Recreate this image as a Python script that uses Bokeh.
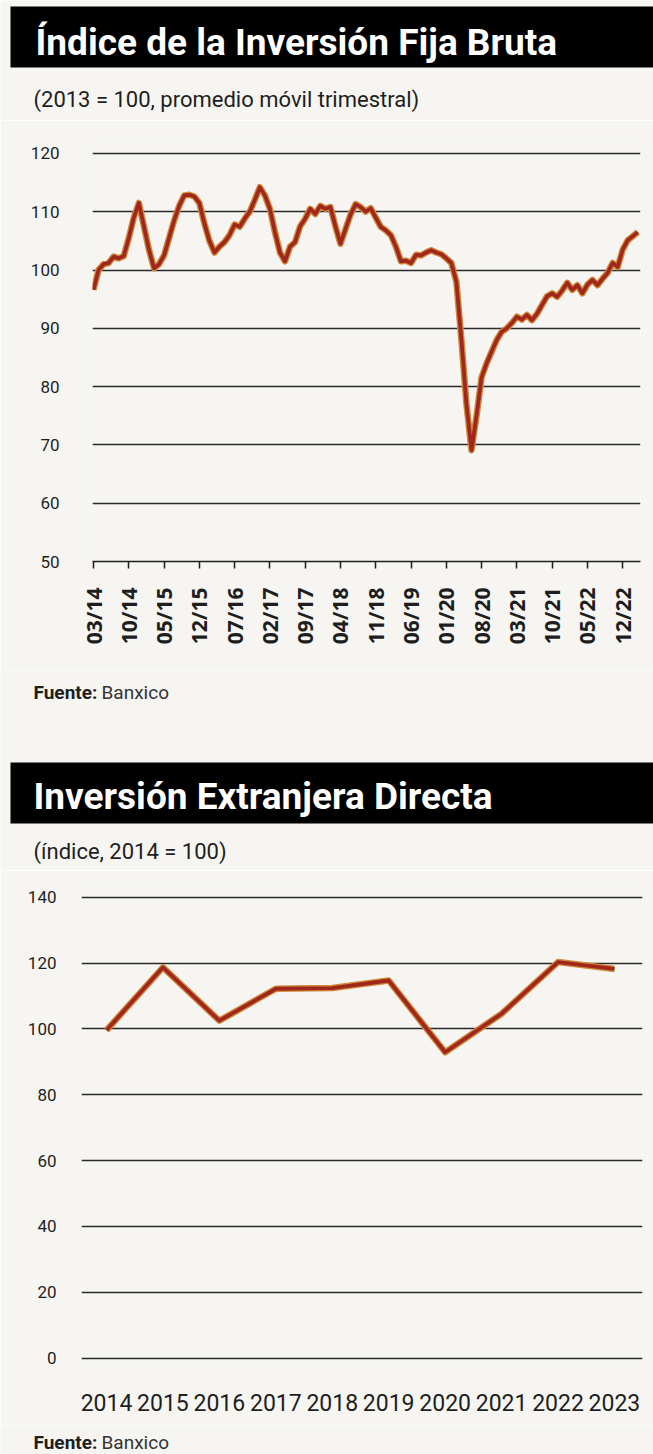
import math
from bokeh.plotting import figure
from bokeh.models import Range1d, FixedTicker
from bokeh.layouts import column
from bokeh.core.properties import value
from bokeh.embed import file_html
from bokeh.resources import INLINE

# ---------------- data ----------------
ifb_values = [
    96.6, 100.0, 101.0, 101.2, 102.3, 102.0, 102.4, 105.5, 109.0, 111.5,
    107.5, 103.5, 100.3, 101.0, 102.5, 105.5, 108.5, 111.0, 112.8, 112.9,
    112.6, 111.5, 108.0, 105.0, 103.0, 104.0, 104.8, 106.0, 107.8, 107.4,
    108.8, 110.0, 112.0, 114.2, 112.8, 110.5, 106.5, 103.0, 101.5, 104.0,
    104.8, 107.5, 108.8, 110.5, 109.6, 111.0, 110.5, 110.8, 107.5, 104.5,
    107.0, 109.5, 111.3, 110.8, 110.0, 110.6, 109.0, 107.4, 106.8, 106.0,
    104.0, 101.5, 101.6, 101.2, 102.6, 102.5, 103.0, 103.4, 103.0, 102.7,
    102.0, 101.2, 98.0, 88.0, 77.0, 69.1, 75.0, 81.6, 84.0, 86.0,
    88.0, 89.4, 90.0, 90.9, 92.0, 91.5, 92.3, 91.4, 92.5, 94.0,
    95.5, 96.0, 95.4, 96.5, 97.8, 96.6, 97.4, 96.0, 97.5, 98.3,
    97.4, 98.5, 99.5, 101.2, 100.5, 103.5, 105.1, 105.8, 106.5,
]
ifb_tick_labels = ["03/14", "10/14", "05/15", "12/15", "07/16", "02/17", "09/17", "04/18",
                   "11/18", "06/19", "01/20", "08/20", "03/21", "10/21", "05/22", "12/22"]
ifb_tick_step = 7
ifb_yticks = [50, 60, 70, 80, 90, 100, 110, 120]

ied_years = [2014, 2015, 2016, 2017, 2018, 2019, 2020, 2021, 2022, 2023]
ied_values = [99.6, 118.7, 102.5, 112.2, 112.4, 114.7, 92.9, 104.6, 120.3, 118.2]
ied_yticks = [0, 20, 40, 60, 80, 100, 120, 140]

title1 = "Índice de la Inversión Fija Bruta"
subtitle1 = "(2013 = 100, promedio móvil trimestral)"
title2 = "Inversión Extranjera Directa"
subtitle2 = "(índice, 2014 = 100)"
source_bold = "Fuente:"
source_name = "Banxico"

# ---------------- style ----------------
BG = "#f6f5f2"
GRID = "#2a2a2a"
INK = "#1e1e1e"
LINE_EDGE = "#cf8a3c"
LINE_CORE = "#a1261b"
FONT = "Roboto"
W = 653
BASE_FIX = 0.31   # svg text baseline correction (fraction of font size)


def panel(top, bottom):
    """A plain figure whose frame fills the canvas, in page pixels (y downward)."""
    h = bottom - top
    p = figure(width=W, height=h, output_backend="svg", toolbar_location=None,
               x_range=Range1d(0, W), y_range=Range1d(bottom, top),
               x_axis_type=None, y_axis_type=None, frame_align=False,
               min_border_left=0, min_border_right=0, min_border_top=0, min_border_bottom=0,
               background_fill_color=BG, border_fill_color=BG)
    p.outline_line_color = None
    p.xgrid.visible = False
    p.ygrid.visible = False
    return p


def put_text(p, x, y, txt, size, color, style="normal"):
    p.text(x=[x], y=[y - BASE_FIX * size], text=[txt], text_font=value(FONT),
           text_font_size=f"{size}px", text_font_style=style,
           text_color=color, text_baseline="alphabetic")


def header(p, y_top, y_bot, title, x_title, y_title, sub, x_sub, y_sub):
    p.quad(left=[10], right=[W], top=[y_top], bottom=[y_bot], fill_color="black", line_color=None)
    put_text(p, x_title, y_title, title, 37, "white", "bold")
    put_text(p, x_sub, y_sub, sub, 22, INK)


def source(p, x, y):
    put_text(p, x, y, source_bold, 19, INK, "bold")
    put_text(p, x + 68, y, source_name, 19, "#333333")


def style_yaxis(p, ticks, size, standoff):
    p.yaxis.ticker = FixedTicker(ticks=ticks)
    p.yaxis.axis_line_color = None
    p.yaxis.major_tick_line_color = None
    p.yaxis.minor_tick_line_color = None
    p.yaxis.major_tick_out = 0
    p.yaxis.major_tick_in = 0
    p.yaxis.major_label_standoff = standoff
    p.yaxis.major_label_text_font = FONT
    p.yaxis.major_label_text_font_size = size
    p.yaxis.major_label_text_color = INK
    p.xgrid.visible = False
    p.ygrid.ticker = FixedTicker(ticks=ticks)
    p.ygrid.grid_line_color = GRID
    p.ygrid.grid_line_width = 1.5


# ============ header 1 ============
pA = panel(0, 120)
header(pA, 6, 67, title1, 35, 53, subtitle1, 33, 106)

# ============ chart 1 : Indice de la Inversion Fija Bruta ============
C1_TOP, C1_BOT = 120, 670
F1_L, F1_R, F1_T, F1_B = 92, 640, 141, 561      # frame edges on the page
T0 = 93                                         # page x of first tick
PXM = 5.04                                      # px per month
PXU1 = 5.83                                     # px per index point
x1s = (F1_L - T0) / PXM
x1e = (F1_R - T0) / PXM
y1s = 50
y1e = 50 + (F1_B - F1_T) / PXU1

p1 = figure(width=W, height=C1_BOT - C1_TOP, output_backend="svg", toolbar_location=None,
            x_range=Range1d(x1s, x1e), y_range=Range1d(y1s, y1e), frame_align=False,
            min_border_left=F1_L, min_border_right=W - F1_R,
            min_border_top=F1_T - C1_TOP, min_border_bottom=C1_BOT - F1_B,
            background_fill_color=BG, border_fill_color=BG)
p1.outline_line_color = None

months = list(range(len(ifb_values)))
p1.line(months, ifb_values, line_color=LINE_EDGE, line_width=6.5, line_join="round")
p1.line(months, ifb_values, line_color=LINE_CORE, line_width=3.8, line_join="round")

tick_pos = [i * ifb_tick_step for i in range(len(ifb_tick_labels))]
p1.xaxis.ticker = FixedTicker(ticks=tick_pos)
p1.xaxis.major_label_overrides = {t: lab for t, lab in zip(tick_pos, ifb_tick_labels)}
p1.xaxis.major_label_orientation = math.pi / 2
p1.xaxis.axis_line_color = INK
p1.xaxis.axis_line_width = 1.5
p1.xaxis.major_tick_line_color = INK
p1.xaxis.major_tick_line_width = 1.5
p1.xaxis.major_tick_in = 0
p1.xaxis.major_tick_out = 7
p1.xaxis.minor_tick_line_color = None
p1.xaxis.major_label_standoff = 19
p1.xaxis.major_label_text_font = "Open Sans"
p1.xaxis.major_label_text_font_size = "21px"
p1.xaxis.major_label_text_font_style = "bold"
p1.xaxis.major_label_text_color = INK
style_yaxis(p1, ifb_yticks, "17px", 33)

# ============ footer 1 + header 2 ============
pB = panel(670, 870)
source(pB, 33, 698)
header(pB, 762, 823, title2, 33, 807, subtitle2, 33, 858)

# ============ chart 2 : Inversion Extranjera Directa ============
C2_TOP, C2_BOT = 870, 1425
F2_L, F2_R, F2_T, F2_B = 81, 642, 886, 1362
YR0 = 106          # page x of first year
PXY = 56.44        # px per year
Z0 = 1357.7        # page y of zero line
PXU2 = 3.293       # px per index point
x2s = ied_years[0] - (YR0 - F2_L) / PXY
x2e = ied_years[0] + (F2_R - YR0) / PXY
y2s = -(F2_B - Z0) / PXU2
y2e = (Z0 - F2_T) / PXU2

p2 = figure(width=W, height=C2_BOT - C2_TOP, output_backend="svg", toolbar_location=None,
            x_range=Range1d(x2s, x2e), y_range=Range1d(y2s, y2e), frame_align=False,
            min_border_left=F2_L, min_border_right=W - F2_R,
            min_border_top=F2_T - C2_TOP, min_border_bottom=C2_BOT - F2_B,
            background_fill_color=BG, border_fill_color=BG)
p2.outline_line_color = None

p2.line(ied_years, ied_values, line_color=LINE_EDGE, line_width=6.5, line_join="round")
p2.line(ied_years, ied_values, line_color=LINE_CORE, line_width=3.8, line_join="round")

p2.xaxis.ticker = FixedTicker(ticks=ied_years)
p2.xaxis.axis_line_color = None
p2.xaxis.major_tick_line_color = None
p2.xaxis.minor_tick_line_color = None
p2.xaxis.major_tick_in = 0
p2.xaxis.major_tick_out = 0
p2.xaxis.major_label_standoff = 31
p2.xaxis.major_label_text_font = FONT
p2.xaxis.major_label_text_font_size = "23px"
p2.xaxis.major_label_text_color = INK
style_yaxis(p2, ied_yticks, "17px", 25)

# ============ footer 2 ============
pC = panel(1425, 1454)
source(pC, 33, 1448)

layout = column(pA, p1, pB, p2, pC, spacing=0)
open("out.html", "w").write(file_html(layout, INLINE))
